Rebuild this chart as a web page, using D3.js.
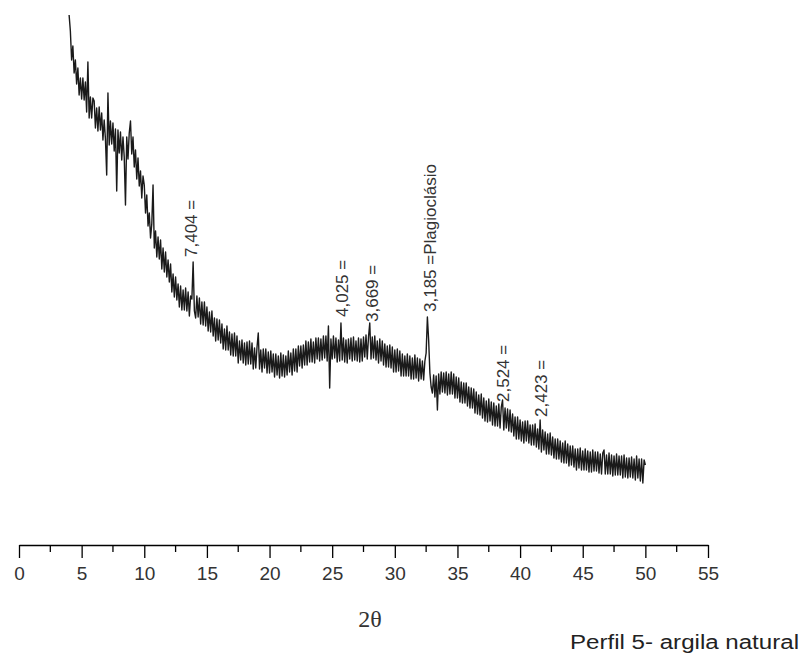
<!DOCTYPE html>
<html>
  <head>
    <meta charset="utf-8">
    <title>Perfil 5- argila natural</title>
    <script src="https://d3js.org/d3.v7.min.js"></script>
    <style>
      body { margin: 0; background: #fff; }
      svg { display: block; }
    </style>
  </head>
  <body>
    <script>
      // varredura em 2θ (graus): inicio e passo constante do difratometro
      var scanStart = 4.0,
          scanStep = 0.1;

      // intensidade, uma linha por grau (4.0 ... 50.0)
      var intensity = [
        530, 514, 485, 499, 472, 485, 461, 477, 450, 467,
        446, 467, 445, 463, 433, 483, 427, 448, 427, 447,
        444, 417, 437, 414, 438, 415, 432, 405, 425, 406,
        370, 452, 400, 424, 401, 422, 394, 416, 354, 415,
        392, 413, 385, 408, 388, 340, 408, 386, 412, 424,
        391, 408, 378, 395, 366, 387, 359, 374, 347, 369,
        360, 332, 350, 319, 332, 307, 321, 360, 297, 314,
        288, 308, 286, 305, 276, 297, 273, 293, 268, 285,
        263, 281, 253, 271, 248, 268, 245, 261, 238, 259,
        235, 255, 235, 257, 234, 253, 229, 249, 246, 283,
        234, 227, 249, 228, 247, 221, 243, 220, 243, 219,
        238, 214, 233, 213, 234, 209, 227, 204, 226, 205,
        225, 202, 221, 196, 216, 195, 219, 195, 213, 190,
        211, 189, 212, 189, 209, 182, 204, 185, 205, 182,
        202, 180, 203, 181, 204, 181, 202, 176, 197, 177,
        198, 212, 176, 195, 173, 196, 177, 196, 172, 193,
        172, 194, 173, 191, 168, 191, 170, 189, 167, 192,
        169, 190, 168, 189, 170, 194, 173, 192, 170, 196,
        174, 196, 173, 199, 179, 199, 177, 200, 180, 204,
        180, 203, 183, 206, 183, 203, 182, 207, 186, 207,
        184, 206, 185, 209, 187, 209, 184, 219, 157, 206,
        186, 209, 187, 207, 183, 205, 184, 222, 185, 207,
        183, 205, 182, 206, 186, 207, 184, 208, 185, 204,
        184, 207, 183, 206, 184, 208, 188, 210, 186, 208,
        222, 186, 208, 187, 209, 185, 204, 182, 206, 184,
        204, 180, 201, 178, 199, 178, 200, 177, 198, 173,
        195, 173, 196, 174, 194, 169, 191, 169, 189, 169,
        191, 169, 189, 166, 187, 166, 190, 167, 187, 164,
        186, 166, 184, 165, 184, 192, 228, 205, 172, 158,
        152, 170, 148, 169, 135, 171, 151, 173, 153, 172,
        152, 173, 150, 171, 151, 173, 151, 171, 147, 168,
        147, 167, 143, 163, 142, 162, 142, 162, 139, 158,
        137, 157, 137, 156, 132, 153, 131, 150, 130, 151,
        127, 147, 124, 144, 123, 146, 124, 143, 120, 142,
        119, 139, 119, 141, 117, 138, 145, 115, 137, 117,
        136, 114, 135, 113, 131, 109, 128, 106, 128, 106,
        125, 104, 123, 102, 124, 104, 124, 102, 120, 100,
        120, 100, 121, 98, 116, 96, 125, 93, 115, 95,
        113, 91, 111, 91, 112, 90, 108, 87, 106, 86,
        106, 86, 104, 83, 102, 82, 104, 82, 101, 79,
        99, 80, 99, 78, 96, 75, 96, 77, 97, 75,
        94, 75, 96, 75, 94, 73, 93, 73, 95, 74,
        93, 74, 93, 72, 91, 71, 92, 95, 71, 90,
        71, 92, 71, 90, 69, 89, 70, 91, 70, 89,
        70, 89, 67, 90, 68, 87, 67, 87, 68, 88,
        67, 86, 65, 89, 67, 86, 64, 86, 62, 85,
        80
      ];

      var xTicks = [0, 5, 10, 15, 20, 25, 30, 35, 40, 45, 50, 55];
      var xMinorTicks = [2.5, 7.5, 12.5, 17.5, 22.5, 27.5, 32.5, 37.5, 42.5, 47.5, 52.5];

      // picos identificados (distancia d) e onde fica o pe de cada rotulo
      var peakLabels = ["7,404 =", "4,025 =", "3,669 =", "3,185 =Plagioclásio", "2,524 =", "2,423 ="];
      var peakLabelTheta = [14.2, 26.25, 28.65, 33.3, 39.1, 42.15];
      var peakLabelBase = [288, 228, 223, 233, 143, 128];

      var xTitle = "2θ";
      var caption = "Perfil 5- argila natural";

      var width = 810,
          height = 655;

      var svg = d3.select("body").append("svg")
          .attr("width", width)
          .attr("height", height);

      var x = d3.scaleLinear().domain([0, 55]).range([19, 708]);
      var y = d3.scaleLinear().domain([0, 530]).range([545, 15]);

      var points = intensity.map(function (v, i) {
        return [scanStart + i * scanStep, v];
      });

      var line = d3.line()
          .x(function (d) { return x(d[0]); })
          .y(function (d) { return y(d[1]); });

      svg.append("path")
          .datum(points)
          .attr("fill", "none")
          .attr("stroke", "#1a1a1a")
          .attr("stroke-width", 1.4)
          .attr("stroke-linejoin", "round")
          .attr("d", line);

      // eixo 2θ
      var axis = svg.append("g")
          .attr("transform", "translate(0,545)")
          .call(d3.axisBottom(x)
            .tickValues(xTicks)
            .tickFormat(d3.format("d"))
            .tickSize(13)
            .tickSizeOuter(0)
            .tickPadding(9));
      axis.select(".domain").attr("stroke", "#000").attr("stroke-width", 1.5);
      axis.selectAll(".tick line").attr("stroke", "#000").attr("stroke-width", 1.3);
      axis.selectAll(".tick text")
          .attr("fill", "#333")
          .style("font-family", "'Liberation Sans', Arial, sans-serif")
          .style("font-size", "19px");

      axis.selectAll(".minor")
          .data(xMinorTicks)
          .enter().append("line")
          .attr("class", "minor")
          .attr("x1", function (d) { return x(d); })
          .attr("x2", function (d) { return x(d); })
          .attr("y1", 0)
          .attr("y2", 7)
          .attr("stroke", "#000")
          .attr("stroke-width", 1.3);

      // rotulos dos picos (verticais)
      svg.selectAll(".peak")
          .data(peakLabels)
          .enter().append("text")
          .attr("class", "peak")
          .attr("transform", function (d, i) {
            return "translate(" + x(peakLabelTheta[i]) + "," + y(peakLabelBase[i]) + ") rotate(-90)";
          })
          .attr("fill", "#333")
          .style("font-family", "'Liberation Sans', Arial, sans-serif")
          .style("font-size", "17px")
          .text(function (d) { return d; });

      svg.append("text")
          .attr("x", 370)
          .attr("y", 627)
          .attr("text-anchor", "middle")
          .attr("fill", "#333")
          .style("font-family", "'Liberation Serif', 'Times New Roman', serif")
          .style("font-size", "24px")
          .text(xTitle);

      svg.append("text")
          .attr("x", 570)
          .attr("y", 649)
          .attr("textLength", 229)
          .attr("lengthAdjust", "spacingAndGlyphs")
          .attr("fill", "#222")
          .style("font-family", "'Liberation Sans', Arial, sans-serif")
          .style("font-size", "20px")
          .text(caption);
    </script>
  </body>
</html>
